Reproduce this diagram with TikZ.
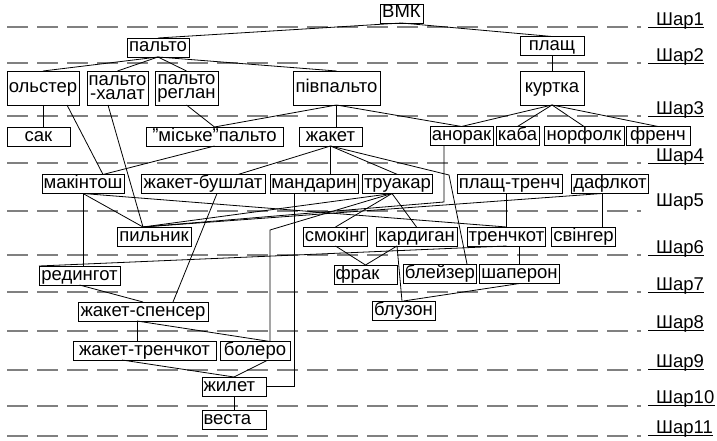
\documentclass[tikz,border=0pt]{standalone}
\usepackage{fontspec}
\setmainfont{Liberation Sans}
\begin{document}
\begin{tikzpicture}[x=1pt,y=-1pt,
  box/.style={draw=black,line width=0.8pt,inner xsep=1.5pt,inner ysep=1pt,outer sep=0pt,
    font=\fontsize{18.5}{18.5}\selectfont,text height=13pt,text depth=4pt,minimum height=19pt},
  tbox/.style={draw=black,line width=0.8pt,inner sep=1pt,outer sep=0pt,align=center,
    font=\fontsize{18.5}{14}\selectfont,minimum height=34pt},
  lbox/.style={text width=#1,align=left},
  conn/.style={draw=black,line width=0.8pt},
  layer/.style={draw=black!50,line width=1.5pt,dash pattern=on 21pt off 9pt},
  lbl/.style={font=\fontsize{18.5}{18.5}\selectfont,inner sep=0pt,anchor=base west},
  uline/.style={draw=black,line width=0.8pt}]
\useasboundingbox (0,0) rectangle (717,441);
\fill[white] (0,0) rectangle (717,441);
% layers
\foreach \yy in {27,63,116,163,211,255,292,331,370,406,436}
  \draw[layer] (7,\yy) -- (641,\yy);
\node[lbl] (s1) at (656,25.5) {Шар1};
\node[lbl] (s2) at (656,61.5) {Шар2};
\node[lbl] (s3) at (656,114.5) {Шар3};
\node[lbl] (s4) at (656,161.5) {Шар4};
\node[lbl] (s5) at (656,206) {Шар5};
\node[lbl] (s6) at (656,253.5) {Шар6};
\node[lbl] (s7) at (656,290.5) {Шар7};
\node[lbl] (s8) at (656,328) {Шар8};
\node[lbl] (s9) at (656,367) {Шар9};
\node[lbl] (s10) at (656,403) {Шар10};
\node[lbl] (s11) at (656,433) {Шар11};
\draw[uline] (648,27) -- (s1.east |- 0,27);
\draw[uline] (648,63) -- (s2.east |- 0,63);
\draw[uline] (648,116) -- (s3.east |- 0,116);
\draw[uline] (648,163) -- (s4.east |- 0,163);
\draw[uline] (648,255) -- (s6.east |- 0,255);
\draw[uline] (648,292) -- (s7.east |- 0,292);
\draw[uline] (648,330) -- (s8.east |- 0,330);
\draw[uline] (648,369) -- (s9.east |- 0,369);
\draw[uline] (648,405) -- (s10.east |- 0,405);
\draw[uline] (648,435) -- (s11.east |- 0,435);
% nodes
\node[box,minimum width=43pt] (vmk) at (401.5,13.5) {ВМК};
\node[box,minimum width=62pt] (palto) at (158,47.5) {пальто};
\node[box,minimum width=64pt,minimum height=18pt] (plashch) at (552,46) {плащ};
\node[box,minimum width=72pt,minimum height=34pt] (olster) at (43,88) {ольстер};
\node[tbox,minimum width=61pt] (khalat) at (117.5,88) {пальто\\-халат};
\node[tbox,minimum width=63pt] (reglan) at (186.5,88) {пальто\\реглан};
\node[box,minimum width=87pt,minimum height=34pt] (pivp) at (336.5,88) {півпальто};
\node[box,minimum width=64pt,minimum height=34pt] (kurtka) at (552,88) {куртка};
\node[box,minimum width=63pt] (sak) at (38.5,136.5) {сак};
\node[box,minimum width=137pt] (miske) at (214.5,136.5) {"міське"пальто};
\node[box,minimum width=63pt] (zhaket) at (330.5,136.5) {жакет};
\node[box,minimum width=63pt,minimum height=18pt] (anorak) at (461.5,136) {анорак};
\node[box,minimum width=43pt,minimum height=18pt] (kaba) at (517.5,136) {каба};
\node[box,minimum width=80pt,minimum height=18pt] (norfolk) at (584,136) {норфолк};
\node[box,minimum width=64pt,minimum height=18pt] (french) at (658,136) {френч};
\node[box,minimum width=82pt,minimum height=18pt] (mak) at (83,184) {макінтош};
\node[box,minimum width=124pt,minimum height=18pt] (bushlat) at (203,184) {жакет-бушлат};
\node[box,minimum width=86pt,minimum height=18pt] (mandaryn) at (314,184) {мандарин};
\node[box,minimum width=69pt,minimum height=18pt] (truakar) at (397.5,184) {труакар};
\node[box,minimum width=105pt,minimum height=18pt] (plashtr) at (509.5,184) {плащ-тренч};
\node[box,minimum width=76pt,minimum height=18pt] (duffle) at (610,184) {дафлкот};
\node[box,minimum width=74pt] (pylnyk) at (154,236.5) {пильник};
\node[box,minimum width=63pt] (smoking) at (335.5,236.5) {смокінг};
\node[box,minimum width=81pt] (cardigan) at (416.5,236.5) {кардиган};
\node[box,minimum width=77pt] (trench) at (506.5,236.5) {тренчкот};
\node[box,minimum width=63pt] (swinger) at (583.5,236.5) {свінгер};
\node[box,minimum width=81pt] (redingot) at (79.5,275.5) {редингот};
\node[box,lbox=60pt,minimum height=17pt] (frak) at (365.5,274.5) {фрак};
\node[box,minimum width=72pt,minimum height=17pt] (blazer) at (440,273.5) {блейзер};
\node[box,minimum width=79pt,minimum height=17pt] (chaperon) at (519.5,274) {шаперон};
\node[box,minimum width=130pt] (spenser) at (143,311.5) {жакет-спенсер};
\node[box,minimum width=63pt] (bluzon) at (403.5,310.5) {блузон};
\node[box,minimum width=143pt] (zhtrench) at (144.5,350.5) {жакет-тренчкот};
\node[box,minimum width=70pt,minimum height=18pt] (bolero) at (255,351) {болеро};
\node[box,lbox=61pt] (zhylet) at (234,386.5) {жилет};
\node[box,lbox=61pt,minimum height=18pt] (vesta) at (234,420) {веста};
% bend points
\coordinate (bzb) at (449,175);
\coordinate (anb) at (444,202);
\coordinate (trb) at (270,230);
% connectors
\draw[conn] (vmk.south) -- (palto.north);
\draw[conn] (vmk.south) -- (plashch.north);
\draw[conn] (palto.south) -- (olster.north);
\draw[conn] (palto.south) -- (khalat.north);
\draw[conn] (palto.south) -- (reglan.north);
\draw[conn] (palto.south) -- (pivp.north);
\draw[conn] (plashch.south) -- (kurtka.north);
\draw[conn] (olster.south) -- (olster.south |- sak.north);
\draw[conn] (reglan.south) -- (miske.north);
\draw[conn] (pivp.south) -- (miske.north);
\draw[conn] (pivp.south) -- (pivp.south |- zhaket.north);
\draw[conn] (pivp.south) -- (anorak.north);
\draw[conn] (kurtka.south) -- (anorak.north);
\draw[conn] (kurtka.south) -- (kaba.north);
\draw[conn] (kurtka.south) -- (norfolk.north);
\draw[conn] (kurtka.south) -- (french.north);
\draw[conn] ([xshift=24pt]olster.south) -- ([xshift=20pt]mak.north);
\draw[conn] (miske.south) -- ([xshift=20pt]mak.north);
\draw[conn] ([xshift=-9.5pt]khalat.south) -- ([xshift=-11pt]pylnyk.north);
\draw[conn] (zhaket.south) -- ([xshift=35pt]bushlat.north);
\draw[conn] (zhaket.south) -- (zhaket.south |- mandaryn.north);
\draw[conn] (zhaket.south) -- (truakar.north);
\draw[conn] (zhaket.south) -- (bzb) -- ([xshift=27pt]blazer.north);
\draw[conn] (anorak.south -| anb) -- (anb) -- ([xshift=-11pt]pylnyk.north);
\draw[conn] ([xshift=-8pt]duffle.south) -- ([xshift=-11pt]pylnyk.north);
\draw[conn] ([xshift=-8pt]duffle.south) -- ([xshift=-8pt]duffle.south |- swinger.north);
\draw[conn] (trench.north |- plashtr.south) -- (trench.north);
\draw[conn] ([xshift=-5.5pt]truakar.south) -- (smoking.north);
\draw[conn] ([xshift=-5.5pt]truakar.south) -- (cardigan.north);
\draw[conn] ([xshift=-5.5pt]truakar.south) -- ([xshift=-11pt]pylnyk.north);
\draw[conn] ([xshift=-5.5pt]truakar.south) -- (trb) -- (trb |- bolero.north);
\draw[conn] (mak.south) -- (mak.south |- redingot.north);
\draw[conn] (mak.south) -- ([xshift=-11pt]pylnyk.north);
\draw[conn] (mak.south) -- (trench.north);
\draw[conn] ([xshift=-20pt]mandaryn.south) -- ([xshift=-20pt]mandaryn.south |- zhylet.east) -- (zhylet.east);
\draw[conn] ([xshift=14pt]bushlat.south) -- ([xshift=30pt]spenser.north);
\draw[conn] (trench.south) -- (redingot.north west);
\draw[conn] (chaperon.north |- trench.south) -- (chaperon.north);
\draw[conn] (chaperon.south) -- (bluzon.north);
\draw[conn] ([xshift=-19.5pt]cardigan.south) -- (frak.north);
\draw[conn] ([xshift=-19.5pt]cardigan.south) -- ([xshift=-1.5pt]bluzon.north);
\draw[conn] (smoking.south) -- (frak.north);
\draw[conn] (redingot.south) -- (spenser.north);
\draw[conn] ([xshift=-6pt]spenser.south) -- ([xshift=-6pt]spenser.south |- zhtrench.north);
\draw[conn] ([xshift=-6pt]spenser.south) -- ([xshift=15pt]bolero.north);
\draw[conn] ([xshift=-22.5pt]zhtrench.south) -- (zhylet.north);
\draw[conn] ([xshift=12pt]bolero.south) -- (zhylet.north);
\draw[conn] (zhylet.south) -- (vesta.north);
\end{tikzpicture}
\end{document}
